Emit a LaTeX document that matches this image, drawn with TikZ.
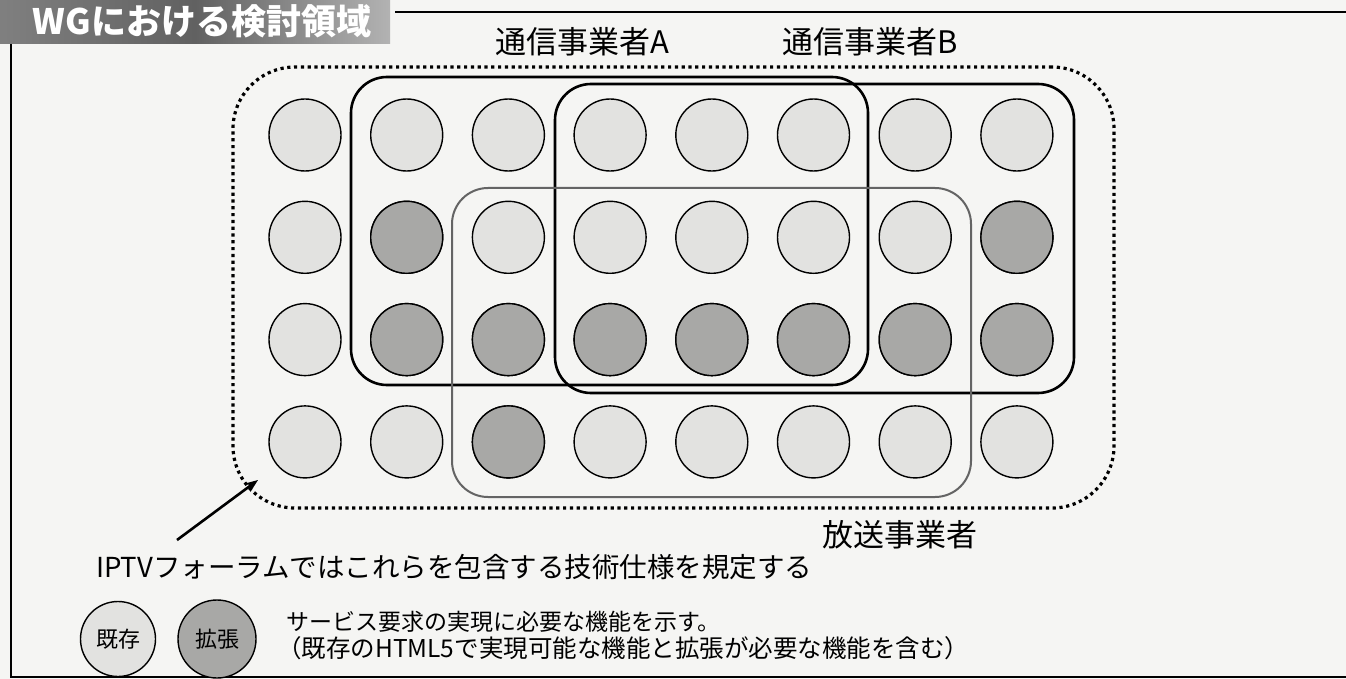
\documentclass[tikz,border=0pt]{standalone}
\usepackage{fontspec}
\newfontfamily\cjk{Noto Sans CJK JP}
\usetikzlibrary{arrows.meta,shapes.geometric}
\definecolor{bg}{RGB}{245,245,243}
\definecolor{lite}{RGB}{226,226,224}
\definecolor{dark}{RGB}{168,168,166}
\definecolor{bcast}{RGB}{100,100,100}
\begin{document}
\begin{tikzpicture}[x=1pt,y=-1pt,
  fn/.style={circle,draw=black,line width=1.4pt,minimum size=72pt,inner sep=0pt},
  ext/.style={fn,fill=dark},
  exi/.style={fn,fill=lite},
  grp/.style={draw=black,line width=2.6pt,rounded corners=36pt,rectangle,inner sep=0pt},
  bgrp/.style={draw=bcast,line width=2pt,rounded corners=36pt,rectangle,inner sep=0pt},
  forum/.style={draw=black,line width=3.2pt,dash pattern=on 3.2pt off 3.6pt,rounded corners=62pt,rectangle,inner sep=0pt},
  lab/.style={font=\cjk\fontsize{31pt}{33pt}\selectfont,inner sep=0pt},
  legshape/.style={circle,draw=black,line width=1.4pt,minimum size=75pt,inner sep=0pt,font=\cjk\fontsize{22pt}{24pt}\selectfont},
  frame/.style={draw=black,line width=2pt}
]
\fill[bg] (0,0) rectangle (1346,679);
\useasboundingbox (0,0) rectangle (1346,679);
% title band
\shade[left color=black!50,right color=black!30,middle color=black!62] (0,0) rectangle (390,44);
\node[font=\cjk\bfseries\fontsize{35pt}{37pt}\selectfont,text=white,inner sep=0pt] (title) at (202,21) {WGにおける検討領域};
% frame
\coordinate (ft1) at (395,12);
\coordinate (ft2) at (1346,12);
\coordinate (fl1) at (11,44);
\coordinate (fl2) at (11,677);
\coordinate (fb2) at (1346,677);
\draw[frame] (ft1) -- (ft2);
\draw[frame] (fl1) -- (fl2) -- (fb2);
% circles
\foreach \c in {1,...,8}{
  \foreach \r in {1,...,4}{
    \pgfmathsetmacro{\cx}{305+101.7*(\c-1)}
    \pgfmathsetmacro{\cy}{135+102.3*(\r-1)}
    \node[exi] (c-\c-\r) at (\cx,\cy) {};
  }
}
\foreach \c/\r in {2/2,8/2,2/3,3/3,4/3,5/3,6/3,7/3,8/3,3/4}{
  \pgfmathsetmacro{\cx}{305+101.7*(\c-1)}
  \pgfmathsetmacro{\cy}{135+102.3*(\r-1)}
  \node[ext] at (\cx,\cy) {};
}
% groups
\node[forum,minimum width=881pt,minimum height=441pt] (iptvarea) at (673.5,287.5) {};
\node[grp,minimum width=517pt,minimum height=308pt] (opA) at (609.5,231) {};
\node[grp,minimum width=519pt,minimum height=309pt] (opB) at (814.5,238.5) {};
\node[bgrp,minimum width=519pt,minimum height=309pt] (bc) at (711.5,342.5) {};
% labels
\node[lab] (labA) at (582,42) {通信事業者A};
\node[lab] (labB) at (870,42) {通信事業者B};
\node[lab] (labC) at (900,535) {放送事業者};
\node[lab,anchor=west,font=\cjk\fontsize{27.5pt}{30pt}\selectfont] (iptv) at (96,567) {IPTVフォーラムではこれらを包含する技術仕様を規定する};
% arrow
\coordinate (arrtail) at (177,540);
\coordinate (arrtip) at (258,480);
\draw[line width=2.6pt,-{Stealth[length=13pt,width=10pt]}] (arrtail) -- (arrtip);
% legend
\node[legshape,fill=lite] (lgA) at (118,639) {既存};
\node[legshape,fill=dark,minimum size=78pt] (lgB) at (217,639) {拡張};
\node[font=\cjk\fontsize{23pt}{25pt}\selectfont,inner sep=0pt,anchor=west] (lt1) at (286,622) {サービス要求の実現に必要な機能を示す。};
\node[font=\cjk\fontsize{24.5pt}{26pt}\selectfont,inner sep=0pt,anchor=west] (lt2) at (277,648) {（既存のHTML5で実現可能な機能と拡張が必要な機能を含む）};
\end{tikzpicture}
\end{document}
